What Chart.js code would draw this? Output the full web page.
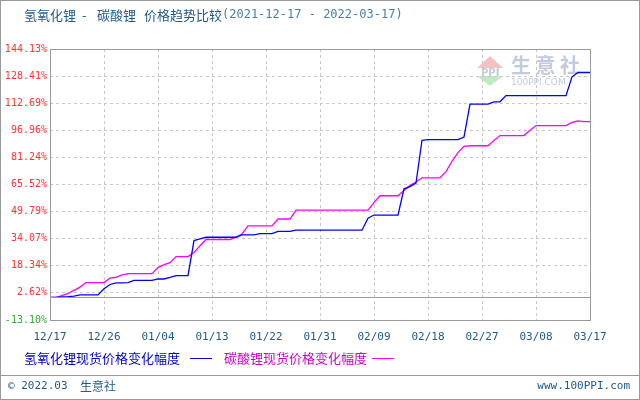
<!DOCTYPE html>
<html><head><meta charset="utf-8">
<script src="https://cdn.jsdelivr.net/npm/chart.js@4"></script>
<style>html,body{margin:0;padding:0;background:#fff}#w{position:relative;width:640px;height:400px}</style>
</head><body><div id="w"><canvas id="c" width="640" height="400"></canvas></div>
<script>
const yTicks = [144.13,128.41,112.69,96.96,81.24,65.52,49.79,34.07,18.34,2.62,-13.10];
const seriesNames = ['氢氧化锂现货价格变化幅度','碳酸锂现货价格变化幅度'];
const startDate = '2021-12-17';
const dayCount = 91;
const lioh = [0,0,0.3,0.5,0.8,1.5,1.5,1.5,1.5,5,7.5,8.4,8.4,8.6,9.9,9.9,9.9,9.9,10.7,10.7,11.6,12.6,12.6,12.6,33.0,34.0,34.9,34.9,34.9,34.9,34.9,34.9,36.3,36.3,36.3,37,37,37,38.3,38.3,38.3,39,39,39,39,39,39,39,39,39,39,39,39,46,47.8,47.8,47.8,47.8,47.8,63.0,64.3,66.3,91.2,91.5,91.5,91.5,91.5,91.5,91.5,93,112.1,112.1,112.1,112.1,113.5,113.5,117.1,117.1,117.1,117.1,117.1,117.1,117.1,117.1,117.1,117.1,117.1,128,130.5,130.5,130.5];
const li2co3 = [0,0,1,2.3,4.1,6,8.6,8.6,8.6,8.6,11.2,11.7,13.1,13.8,13.8,13.8,13.8,13.8,17.3,19,20.2,23.7,23.7,23.7,26,30,33.6,33.6,33.6,33.6,33.6,35,36.8,41.5,41.5,41.5,41.5,41.5,45.5,45.5,45.5,50.6,50.6,50.6,50.6,50.6,50.6,50.6,50.6,50.6,50.6,50.6,50.6,50.6,55,59,59,59,59,62,65,67,69.4,69.4,69.4,69.4,73,79,84,87.6,88,88,88,88,91,93.9,93.9,93.9,93.9,93.9,97,99.7,99.7,99.7,99.7,99.7,99.7,101.5,102.4,102,102];
const labels = [];
{const d0=new Date(startDate+'T00:00:00Z');for(let i=0;i<dayCount;i++){const d=new Date(d0.getTime()+i*86400000);labels.push(String(d.getUTCMonth()+1).padStart(2,'0')+'/'+String(d.getUTCDate()).padStart(2,'0'));}}

const deco = {id:'deco',
 beforeDraw(ch){const c=ch.ctx;c.save();c.fillStyle='#fff';c.fillRect(0,0,640,400);
  c.fillStyle='rgba(240,150,150,0.6)';c.beginPath();c.moveTo(490,56);c.lineTo(503,68);c.lineTo(477,68);c.closePath();c.fill();
  c.fillStyle='rgba(150,220,150,0.6)';c.beginPath();c.moveTo(477,76);c.lineTo(503,76);c.lineTo(490,86);c.closePath();c.fill();
  c.fillStyle='rgba(170,180,210,0.7)';c.font='bold 10px "DejaVu Sans"';c.fillText('PPI',481,76);
  c.font='bold 20px "Noto Sans CJK SC"';c.fillText('生 意 社',511,73);
  c.font='9px "DejaVu Sans"';c.fillText('100PPI.COM',511,85);
  c.restore();},
 afterDraw(ch){const c=ch.ctx;c.save();
  c.strokeStyle='#999';c.lineWidth=1;c.strokeRect(0.5,0.5,639,399);
  c.beginPath();c.moveTo(0,375.5);c.lineTo(640,375.5);c.stroke();
  c.textBaseline='middle';c.font='13px "Noto Sans CJK SC"';c.fillStyle='#1f5a8a';
  const t1='氢氧化锂 - 碳酸锂 价格趋势比较';
  c.fillText('氢氧化锂',24,15);c.fillText('-',82,15);c.fillText('碳酸锂',97,15);c.fillText('价格趋势比较',144,15);
  c.fillStyle='#4a7fa8';c.font='12px "DejaVu Sans Mono"';c.fillText('(2021-12-17 - 2022-03-17)',222,15);
  c.font='13px "Noto Sans CJK SC"';c.fillStyle='#0000cc';c.fillText(seriesNames[0],24,358);
  c.strokeStyle='#0000ff';c.beginPath();c.moveTo(190,358.5);c.lineTo(212,358.5);c.stroke();
  c.fillStyle='#cc00cc';c.fillText(seriesNames[1],224,358);
  c.strokeStyle='#ff00ff';c.beginPath();c.moveTo(372,358.5);c.lineTo(394,358.5);c.stroke();
  c.fillStyle='#1f5a8a';c.font='11px "DejaVu Sans Mono"';c.fillText('© 2022.03',8,386);
  c.font='12px "Noto Sans CJK SC"';c.fillText('生意社',80,386);
  c.font='11px "DejaVu Sans Mono"';c.textAlign='right';c.fillText('www.100PPI.com',630,386);
  const y=ch.scales.y, a=ch.chartArea;const z=Math.round(y.getPixelForValue(0))+0.5;
  c.strokeStyle='#999';c.beginPath();c.moveTo(a.left,z);c.lineTo(a.right,z);c.stroke();
  c.strokeRect(Math.round(a.left)+0.5,Math.round(a.top)+0.5,Math.round(a.right-a.left),Math.round(a.bottom-a.top));
  c.restore();}};

new Chart(document.getElementById('c'),{type:'line',
 data:{labels,datasets:[
  {label:seriesNames[0],data:lioh,borderColor:'#0000ff',borderWidth:1.3,pointRadius:0,tension:0,order:1},
  {label:seriesNames[1],data:li2co3,borderColor:'#ff00ff',borderWidth:1.3,pointRadius:0,tension:0,order:2}]},
 options:{responsive:false,animation:false,
  layout:{padding:{left:0,right:50,top:49,bottom:50}},
  plugins:{legend:{display:false},tooltip:{enabled:false}},
  scales:{
   x:{offset:false,
    grid:{color:ctx=>ctx.index%9===0&&ctx.index>0?'#c8c8c8':'rgba(0,0,0,0)',lineWidth:1,drawTicks:false},
    border:{display:false,dash:[3,3]},
    afterFit:s=>{s.height=30;},
    ticks:{autoSkip:false,maxRotation:0,padding:11,color:'#1f5a8a',font:{family:'DejaVu Sans Mono',size:11},
      callback:(v,i)=>i%9===0?labels[i]:''}},
   y:{min:yTicks[yTicks.length-1],max:yTicks[0],
    afterBuildTicks:s=>{s.ticks=yTicks.map(v=>({value:v}));},
    afterFit:s=>{s.width=50;},
    border:{display:false,dash:[3,3]},
    grid:{color:'#c8c8c8',drawTicks:false},
    ticks:{padding:3,font:{family:'DejaVu Sans Mono',size:10},
      color:ctx=>ctx.index>=yTicks.length-1?'#33aa33':'#ff3333',
      callback:v=>v.toFixed(2)+'%'}}}},
 plugins:[deco]});
</script></body></html>
